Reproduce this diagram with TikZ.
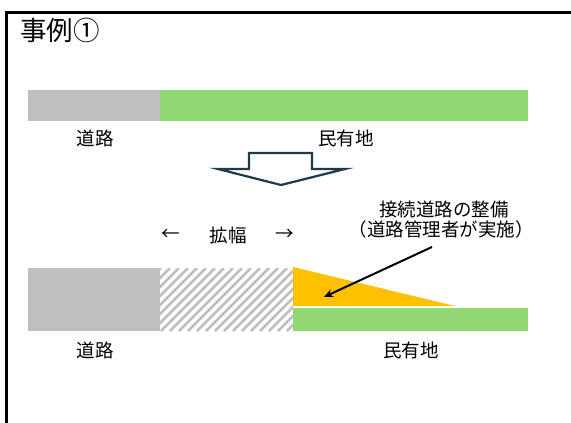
\documentclass[tikz,border=0pt]{standalone}
\usepackage{fontspec}
\setmainfont{Noto Sans CJK JP}
\usetikzlibrary{arrows.meta}
\definecolor{roadgray}{HTML}{BFBFBF}
\definecolor{landgreen}{HTML}{92D872}
\definecolor{conorange}{HTML}{FFC000}
\definecolor{arrowline}{HTML}{1F3A4A}
\tikzset{
  lbl/.style={inner sep=0pt, font=\fontsize{18.5}{22}\selectfont},
  ttl/.style={inner sep=0pt, anchor=west, font=\fontsize{26.5}{30}\selectfont},
}
\begin{document}
\begin{tikzpicture}[x=1pt,y=-1pt]
\useasboundingbox (0,0) rectangle (571,423);
% frame
\draw[line width=3pt] (6,424) -- (6,12) -- (572,12);
\node[ttl] (title) at (20,30) {事例①};
% top bars
\fill[roadgray] (28,90) rectangle (160,121);
\fill[landgreen] (160,90) rectangle (528,121);
\node[lbl] (road1) at (95,138) {道路};
\node[lbl] (land1) at (346,138) {民有地};
% big down arrow
\draw[arrowline, line width=2.2pt, fill=white, line join=miter]
  (249,153) -- (312,153) -- (312,169) -- (345,169) -- (281,185) -- (218,169) -- (249,169) -- cycle;
% widening label
\node[lbl] (lar) at (171,235) {←};
\node[lbl] (widen) at (228,235) {拡幅};
\node[lbl] (rar) at (285,235) {→};
% annotation
\node[lbl] (note1) at (444,209) {接続道路の整備};
\node[lbl] (note2) at (441,229) {（道路管理者が実施）};
% bottom
\fill[roadgray] (28,268) rectangle (160,331);
\begin{scope}
  \clip (160,268) rectangle (293,331);
  \foreach \i in {-80,-71,...,300} {
    \draw[roadgray, line width=2.6pt] (160+\i,331) -- (160+\i+63,268);
  }
\end{scope}
\fill[conorange] (293,267) -- (293,306) -- (455,306) -- cycle;
\fill[landgreen] (293,308) rectangle (528,331);
\node[lbl] (road2) at (95,350) {道路};
\node[lbl] (land2) at (411,350) {民有地};
% pointer arrow
\coordinate (pstart) at (432,247);
\coordinate (pend) at (324,297);
\draw[line width=2pt, -{Stealth[length=9pt,width=8pt]}] (pstart) -- (pend);
\end{tikzpicture}
\end{document}
